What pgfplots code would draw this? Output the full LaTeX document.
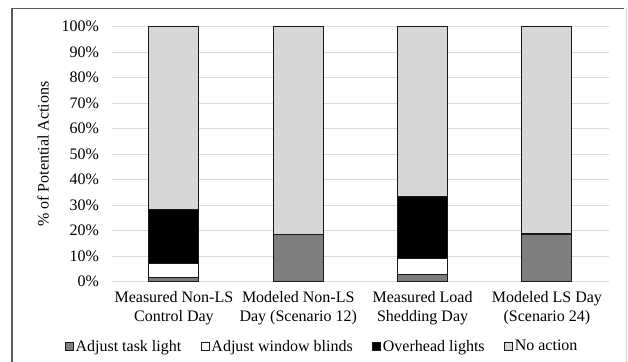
\documentclass[border=0pt]{standalone}
\usepackage{fontspec}
\setmainfont{Liberation Serif}
\usepackage{pgfplots}
\pgfplotsset{compat=1.18}
\usetikzlibrary{patterns}

\definecolor{noact}{HTML}{D6D6D6}
\definecolor{gridc}{HTML}{D9D9D9}
\definecolor{taskc}{HTML}{808080}
\definecolor{framec}{HTML}{595959}

% shares of potential actions (%), one row per day type
\pgfplotstableread{
x task blinds overhead none
0 1.5  5.7  21.2 71.6
1 18.5 0.0  0.0  81.5
2 3.0  6.2  24.1 66.7
3 18.5 0.0  0.4  81.1
}\actions

\begin{document}
\begin{tikzpicture}
\useasboundingbox (0,0) rectangle (471pt,-270.75pt);
% outer chart frame
\draw[framec, line width=0.9pt] (9pt,-275pt) -- (9pt,-6.2pt) -- (468pt,-6.2pt);
\draw[gridc, line width=0.8pt] (470pt,-6.2pt) -- (470pt,-275pt);
\begin{axis}[
  at={(83.8pt,-211.3pt)}, anchor=south west,
  scale only axis, width=373pt, height=191.25pt,
  ybar stacked, bar width=37.5pt,
  xmin=-0.5, xmax=3.5, ymin=0, ymax=100,
  xtick=data,
  xticklabels={Measured Non-LS\\Control Day, Modeled Non-LS\\Day (Scenario 12), Measured Load\\Shedding Day, Modeled LS Day\\(Scenario 24)},
  xticklabel style={align=center, yshift=-3.5pt},
  ytick={0,10,...,100},
  yticklabel={\pgfmathprintnumber{\tick}\%},
  yticklabel style={xshift=-6pt},
  /pgf/number format/assume math mode=true,
  tick style={draw=none},
  axis line style={draw=none},
  ymajorgrids, major grid style={draw=gridc, line width=1pt},
  ylabel={\% of Potential Actions},
  ylabel style={at={(axis description cs:-0.138,0.5)}, anchor=center},
  font=\fontsize{12}{14.25}\selectfont,
  legend style={at={(0.423,-0.254)}, anchor=center, draw=none, fill=none,
    legend columns=4, column sep=0pt, /tikz/every even column/.append style={column sep=13pt},
    nodes={inner xsep=1.5pt},
    font=\fontsize{12}{14.25}\selectfont},
  legend image code/.code={\draw[#1, line width=0.6pt] (0pt,-3pt) rectangle (6pt,3pt);},
  every axis plot/.append style={draw=black!90, line width=0.8pt},
]
\addplot[fill=taskc, postaction={pattern=crosshatch dots, pattern color=black!55}] table[x=x, y=task] {\actions};
\addplot[fill=white] table[x=x, y=blinds] {\actions};
\addplot[fill=black] table[x=x, y=overhead] {\actions};
\addplot[fill=noact] table[x=x, y=none] {\actions};
\legend{Adjust task light, Adjust window blinds, Overhead lights, No action}
\end{axis}
\end{tikzpicture}
\end{document}
